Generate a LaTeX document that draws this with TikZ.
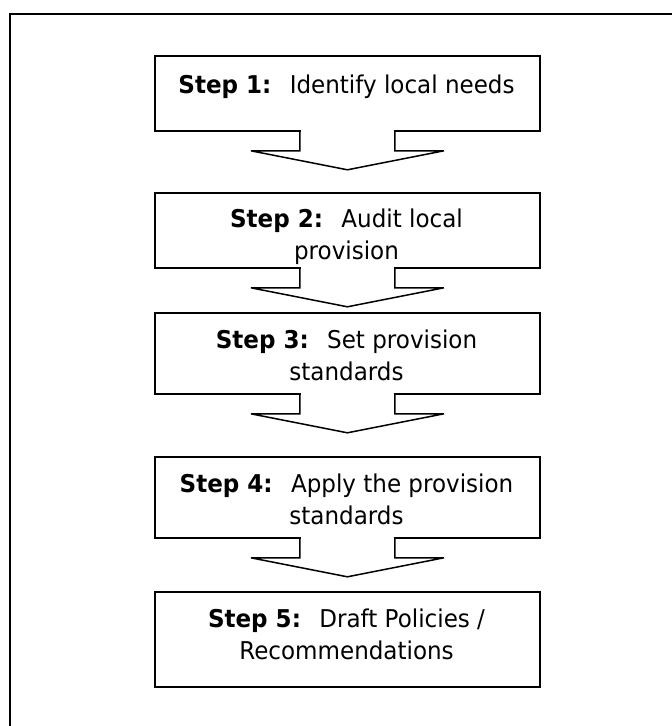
\documentclass[tikz,border=0pt]{standalone}
\usepackage{fontspec}
\setmainfont{DejaVu Sans}[FakeStretch=0.94]
\usetikzlibrary{calc}
\begin{document}
\begin{tikzpicture}[x=1pt,y=-1pt,
  stepbox/.style={draw, line width=1.8pt, fill=white, inner sep=0pt,
    minimum width=385pt, anchor=north west},
  linetext/.style={anchor=base, inner sep=0pt, font=\fontsize{24.5}{29}\selectfont},
  arrowline/.style={draw, line width=1.5pt, line join=miter},
  frameline/.style={draw, line width=2.2pt}]
\useasboundingbox (0,0) rectangle (672,726);
\clip (0,0) rectangle (672,726);
\fill[white] (0,0) rectangle (672,726);
% outer frame (continues beyond the right and bottom edges)
\coordinate (fbl) at (10,740);
\coordinate (ftl) at (10,14);
\coordinate (ftr) at (690,14);
\draw[frameline] (fbl) -- (ftl) -- (ftr);
% boxes
\node[stepbox, minimum height=75pt] (b1) at (154,55) {};
\node[stepbox, minimum height=75pt] (b2) at (154,192) {};
\node[stepbox, minimum height=81pt] (b3) at (154,312) {};
\node[stepbox, minimum height=81pt] (b4) at (154,456) {};
\node[stepbox, minimum height=95pt] (b5) at (154,591) {};
% texts
\newcommand{\stepgap}{\hspace{0.75em}}
\node[linetext] (t1a) at (346.5,93) {\textbf{Step 1:}\stepgap Identify local needs};
\node[linetext] (t2a) at (346.5,227) {\textbf{Step 2:}\stepgap Audit local};
\node[linetext] (t2b) at (346.5,259) {provision};
\node[linetext] (t3a) at (346.5,348) {\textbf{Step 3:}\stepgap Set provision};
\node[linetext] (t3b) at (346.5,380) {standards};
\node[linetext] (t4a) at (346.5,492) {\textbf{Step 4:}\stepgap Apply the provision};
\node[linetext] (t4b) at (346.5,524) {standards};
\node[linetext] (t5a) at (346.5,627) {\textbf{Step 5:}\stepgap Draft Policies /};
\node[linetext] (t5b) at (346.5,659) {Recommendations};
% block arrows
\foreach \a/\b in {b1/b2,b2/b3,b3/b4,b4/b5}{
  \fill[white] ($(\a.south)+(-46.6,-1.6)$) rectangle ($(\a.south)+(46.6,1.6)$);
  \draw[arrowline] ($(\a.south)+(-47.5,0)$) -- ++(0,19) -- ++(-49,0)
    -- ($(\a.south)+(0,38)$) -- ($(\a.south)+(96.5,19)$) -- ++(-49,0) -- ++(0,-19);
}
\end{tikzpicture}
\end{document}
